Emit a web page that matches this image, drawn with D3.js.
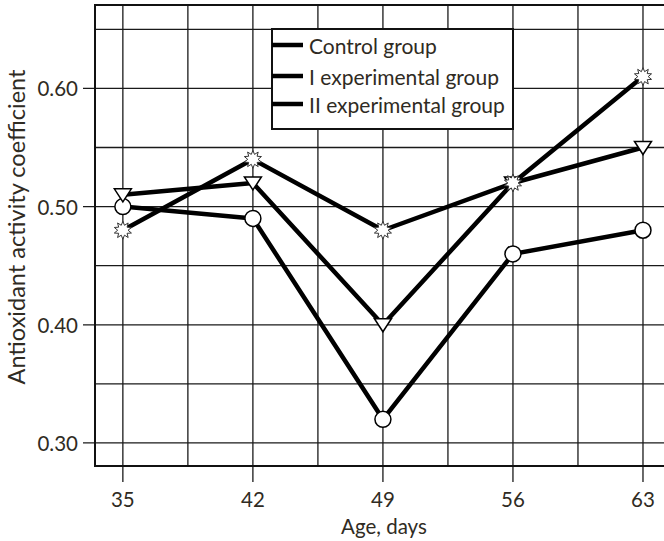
<!DOCTYPE html>
<html lang="en">
<head>
<meta charset="UTF-8" />
<title>Antioxidant activity coefficient</title>
<script src="https://d3js.org/d3.v7.min.js"></script>
<style>
    html, body { margin: 0; padding: 0; background: #fff; }
    #chart { width: 664px; height: 541px; overflow: hidden; }
    text { font-family: Lato, "Open Sans", sans-serif; fill: #2f2b23; }
</style>
</head>
<body>
<div id="chart"></div>
<script>
    // --- Data ---
    const days = [35, 42, 49, 56, 63];
    const controlGroup = [0.50, 0.49, 0.32, 0.46, 0.48];   // circles
    const expGroup1 = [0.51, 0.52, 0.40, 0.52, 0.55];      // triangles
    const expGroup2 = [0.48, 0.54, 0.48, 0.52, 0.61];      // stars
    const yTicks = [0.30, 0.40, 0.50, 0.60];
    const yGrid = [0.30, 0.35, 0.40, 0.45, 0.50, 0.55, 0.60, 0.65];
    const xGrid = [38.5, 45.5, 52.5, 59.5];
    const legendLabels = ["Control group", "I experimental group", "II experimental group"];

    const W = 664, H = 541;
    const svg = d3.select("#chart").append("svg")
        .attr("width", W).attr("height", H);

    // frame: right edge falls outside the picture
    const fLeft = 95, fTop = 5, fBottom = 466, fRight = 708;
    const x = d3.scaleLinear().domain([33.5, 66.5]).range([fLeft, fRight]);
    const y = d3.scaleLinear().domain([0.2805, 0.6706]).range([fBottom, fTop]);

    const grid = svg.append("g").attr("stroke", "#1a1a1a").attr("stroke-width", 1.3);

    // horizontal grid, major ones stick out as ticks
    grid.selectAll("line.h").data(yGrid).enter().append("line")
        .attr("x1", d => yTicks.some(t => Math.abs(t - d) < 1e-6) ? fLeft - 12 : fLeft)
        .attr("x2", fRight)
        .attr("y1", d => y(d)).attr("y2", d => y(d));

    // vertical grid: minor lines and day lines with ticks below
    grid.selectAll("line.v").data(xGrid).enter().append("line")
        .attr("x1", d => x(d)).attr("x2", d => x(d))
        .attr("y1", fTop).attr("y2", fBottom);
    grid.selectAll("line.d").data(days).enter().append("line")
        .attr("x1", d => x(d)).attr("x2", d => x(d))
        .attr("y1", fTop).attr("y2", fBottom + 16);

    // frame
    svg.append("rect")
        .attr("x", fLeft).attr("y", fTop)
        .attr("width", fRight - fLeft).attr("height", fBottom - fTop)
        .attr("fill", "none").attr("stroke", "#111").attr("stroke-width", 2);

    // tick labels
    svg.selectAll("text.yt").data(yTicks).enter().append("text")
        .attr("x", fLeft - 17).attr("y", d => y(d))
        .attr("text-anchor", "end").attr("dominant-baseline", "central")
        .attr("font-size", 20.5)
        .text(d => d.toFixed(2));

    svg.selectAll("text.xt").data(days).enter().append("text")
        .attr("x", d => x(d)).attr("y", 507)
        .attr("text-anchor", "middle")
        .attr("font-size", 20.5)
        .text(d => d);

    // axis titles
    svg.append("text")
        .attr("x", 384).attr("y", 534)
        .attr("text-anchor", "middle").attr("font-size", 20.5)
        .text("Age, days");

    svg.append("text")
        .attr("transform", "translate(25,227) rotate(-90)")
        .attr("text-anchor", "middle").attr("font-size", 23.5)
        .text("Antioxidant activity coefficient");

    // lines
    const line = d3.line().x((d, i) => x(days[i])).y(d => y(d));
    [controlGroup, expGroup1, expGroup2].forEach(series => {
        svg.append("path").datum(series)
            .attr("d", line)
            .attr("fill", "none").attr("stroke", "#000")
            .attr("stroke-width", 4.5).attr("stroke-linejoin", "round");
    });

    // markers
    svg.selectAll("circle.c").data(controlGroup).enter().append("circle")
        .attr("cx", (d, i) => x(days[i])).attr("cy", d => y(d))
        .attr("r", 8).attr("fill", "#fff")
        .attr("stroke", "#000").attr("stroke-width", 1.5);

    const tri = "M-8.5,-6L8.5,-6L0,7Z";
    svg.selectAll("path.t").data(expGroup1).enter().append("path")
        .attr("transform", (d, i) => `translate(${x(days[i])},${y(d)})`)
        .attr("d", tri).attr("fill", "#fff")
        .attr("stroke", "#000").attr("stroke-width", 1.5);

    const starPts = d3.range(20).map(k => {
        const a = k * Math.PI / 10 - Math.PI / 2;
        const r = k % 2 === 0 ? 9 : 5.2;
        return [r * Math.cos(a), r * Math.sin(a)];
    });
    const star = "M" + starPts.map(p => p.join(",")).join("L") + "Z";
    svg.selectAll("path.s").data(expGroup2).enter().append("path")
        .attr("transform", (d, i) => `translate(${x(days[i])},${y(d)})`)
        .attr("d", star).attr("fill", "#fff")
        .attr("stroke", "#333").attr("stroke-width", 1);

    // legend
    const lg = svg.append("g");
    lg.append("rect")
        .attr("x", 272).attr("y", 29).attr("width", 241).attr("height", 100)
        .attr("fill", "#fff").attr("stroke", "#111").attr("stroke-width", 2);
    const rowY = [45, 76, 104];
    legendLabels.forEach((lab, i) => {
        lg.append("line")
            .attr("x1", 272).attr("x2", 303)
            .attr("y1", rowY[i]).attr("y2", rowY[i])
            .attr("stroke", "#000").attr("stroke-width", 4.5);
        lg.append("text")
            .attr("x", 309).attr("y", rowY[i])
            .attr("dominant-baseline", "central")
            .attr("font-size", 21)
            .text(lab);
    });
</script>
</body>
</html>
